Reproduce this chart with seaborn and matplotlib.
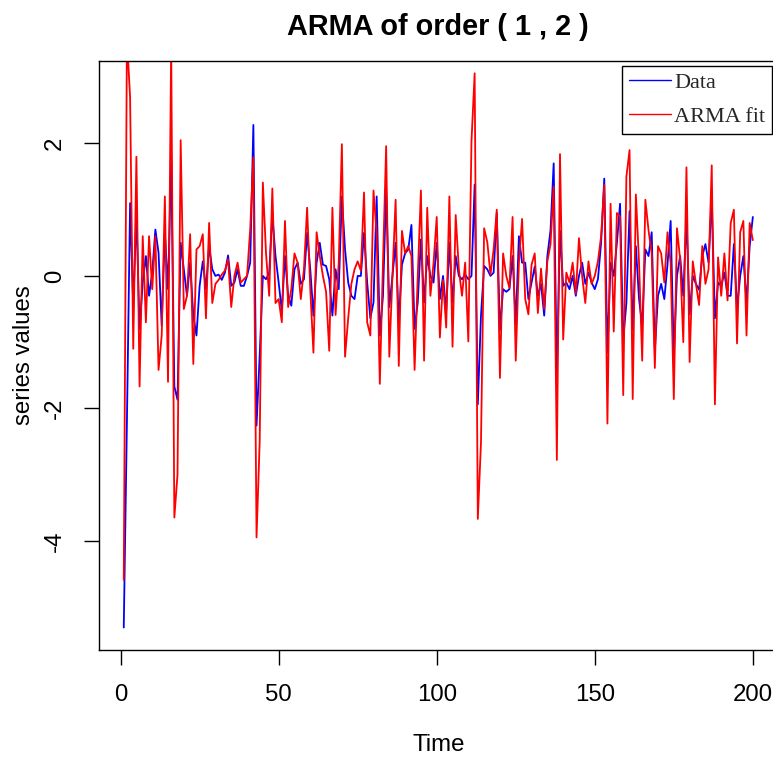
import numpy as np
import pandas as pd
import matplotlib
matplotlib.use("Agg")
import matplotlib.pyplot as plt
import seaborn as sns
from matplotlib.lines import Line2D

# Observed series and fitted ARMA(1,2) values, t = 1..200
data_values = [
    -5.31, -2.2, 1.1, -0.45, 0.95, -0.8, -0.1, 0.3, -0.3, 0.05,
    0.7, 0.35, -0.75, 0.65, -0.2, 1.78, -1.67, -1.87, 0.5, 0.1,
    -0.3, 0.2, -0.6, -0.9, -0.15, 0.22, -0.2, 0.45, 0.1, 0.0,
    0.02, -0.06, 0.05, 0.31, -0.15, -0.1, 0.1, -0.15, -0.15, 0.0,
    0.2, 2.28, -2.26, -1.2, 0.0, -0.05, 0.05, 0.92, 0.3, -0.1,
    -0.53, 0.3, -0.3, -0.45, 0.1, 0.2, -0.12, -0.05, 0.65, 0.1,
    -0.6, 0.2, 0.5, 0.17, 0.15, -0.05, -0.6, 0.1, -0.2, 1.2,
    0.4, -0.1, -0.3, -0.35, 0.0, 0.0, 0.65, -0.1, -0.64, -0.4,
    1.2, -0.9, -0.3, 1.3, -0.47, 0.0, 0.5, -0.7, 0.17, 0.34,
    0.4, 0.77, -0.8, -0.4, 0.55, -0.4, 0.3, 0.0, -0.1, 0.5,
    -0.35, 0.0, -0.53, 0.5, -0.4, 0.3, 0.0, -0.05, 0.02, -0.05,
    0.0, 1.38, -1.94, -0.6, 0.15, 0.1, 0.0, 0.05, 0.95, -0.82,
    -0.2, -0.24, -0.2, 0.3, -0.73, 0.6, 0.2, 0.2, -0.35, -0.1,
    0.14, -0.3, -0.12, -0.6, 0.3, 0.69, 1.7, -1.5, 0.68, -0.15,
    -0.1, -0.2, 0.0, -0.3, 0.0, 0.2, -0.12, 0.05, -0.1, -0.2,
    -0.05, 0.5, 1.47, -1.16, 0.2, 0.0, 0.5, 1.09, -0.96, -0.41,
    0.98, -0.82, 0.45, -0.35, -0.76, 0.4, 0.3, 0.66, -1.13, -0.3,
    -0.12, -0.35, 0.17, 0.83, -1.22, 0.0, 0.3, -0.3, 0.89, -0.58,
    0.0, -0.12, -0.21, 0.3, 0.48, 0.2, 1.18, -0.64, -0.1, -0.15,
    0.05, -0.3, -0.3, 0.48, -0.5, 0.0, 0.3, -0.41, 0.45, 0.89,
]

fit_values = [
    -4.59, 3.6, 2.7, -1.1, 1.8, -1.67, 0.6, -0.7, 0.6, -0.2,
    0.6, -1.42, -0.9, 1.2, -1.6, 3.5, -3.65, -3.0, 2.05, -0.5,
    -0.3, 0.63, -1.33, 0.4, 0.45, 0.63, -0.64, 0.8, -0.41, -0.12,
    -0.06, 0.02, 0.08, 0.25, -0.47, 0.0, 0.2, -0.1, -0.05, 0.0,
    0.71, 1.79, -3.95, -2.5, 1.41, 0.34, -0.3, 1.32, -0.41, -0.35,
    -0.7, 0.83, -0.47, -0.2, 0.34, 0.2, -0.35, 0.1, 1.03, -0.2,
    -1.16, 0.66, 0.3, 0.0, -0.24, -1.13, 1.03, -0.59, 0.2, 1.99,
    -1.22, -0.64, -0.12, 0.1, 0.22, 0.08, 1.26, -0.7, -0.9, 1.29,
    0.63, -1.63, 0.2, 1.96, -1.22, 0.0, 1.15, -1.36, 0.68, 0.34,
    0.45, 0.3, -1.42, 0.0, 1.29, -1.28, 1.03, -0.3, 0.2, 0.89,
    -0.93, -0.06, -0.78, 1.2, -1.07, 0.92, 0.1, -0.3, 0.2, -0.99,
    2.04, 3.06, -3.67, -2.52, 0.72, 0.51, 0.02, 0.4, 1.0, -1.54,
    0.34, 0.0, -0.18, 0.89, -1.28, 0.2, 0.86, -0.35, -0.58, 0.17,
    0.34, -0.56, 0.11, -0.5, 0.22, 0.48, 1.35, -2.78, 1.84, -0.96,
    0.05, -0.1, 0.2, -0.27, 0.57, 0.0, -0.41, 0.22, -0.12, 0.0,
    0.22, 0.6, 1.38, -2.23, 1.09, -0.84, 0.95, 0.9, -1.8, 1.5,
    1.9, -1.86, 1.23, 0.2, -1.28, 1.15, 0.69, 0.34, -1.39, 0.45,
    0.34, -0.1, 0.66, 0.2, -1.86, 0.72, 0.25, -1.0, 1.64, -1.3,
    0.22, -0.12, -0.44, 0.45, -0.12, 0.1, 1.67, -1.94, 0.28, -0.3,
    0.34, -0.37, 0.8, 1.0, -1.02, 0.66, 0.83, -0.9, 0.8, 0.54,
]

time_index = list(range(1, len(data_values) + 1))
x_ticks = [0, 50, 100, 150, 200]
y_ticks = [-4, -2, 0, 2]
series_labels = ["Data", "ARMA fit"]
series_colors = ["blue", "red"]
title_text = "ARMA of order ( 1 , 2 )"

sns.set_style("ticks")
plt.rcParams["font.family"] = ["Liberation Sans", "DejaVu Sans"]
plt.rcParams["axes.unicode_minus"] = False

W, H = 773, 757
fig = plt.figure(figsize=(W / 100, H / 100), dpi=100)
fig.patch.set_facecolor("white")

# plot region in pixels: left 98.6, right 778 (runs past the edge), top 61, bottom 650
left, right, top, bottom = 98.6, 778.0, 61.0, 650.0
ax = fig.add_axes([left / W, (H - bottom) / H, (right - left) / W, (bottom - top) / H])

df = pd.DataFrame({"Time": time_index, "Data": data_values, "ARMA fit": fit_values})

sns.lineplot(data=df, x="Time", y="Data", color=series_colors[0], lw=1.3,
             estimator=None, sort=False, legend=False, ax=ax)
sns.lineplot(data=df, x="Time", y="ARMA fit", color=series_colors[1], lw=1.3,
             estimator=None, sort=False, legend=False, ax=ax)

ax.set_xlim(-6.96, 207.96)
ax.set_ylim(-5.65, 3.246)
ax.set_xticks(x_ticks)
ax.set_yticks(y_ticks)
ax.set_xticklabels([str(v) for v in x_ticks])
ax.set_yticklabels([str(v) for v in y_ticks])

for side in ["left", "right", "top", "bottom"]:
    ax.spines[side].set_visible(True)
    ax.spines[side].set_color("black")
    ax.spines[side].set_linewidth(1.0)

ax.tick_params(axis="both", direction="out", length=10.5, width=1.0,
               color="black", labelcolor="black", labelsize=17.3)
ax.tick_params(axis="x", pad=14)
ax.tick_params(axis="y", pad=13)
for lbl in ax.get_yticklabels():
    lbl.set_rotation(90)
    lbl.set_va("center")

ax.set_xlabel("Time", fontsize=17.3, color="black")
ax.xaxis.set_label_coords(0.5, -(734 - bottom) / (bottom - top))
ax.set_ylabel("series values", fontsize=17.3, color="black")
ax.yaxis.set_label_coords((35 - left) / (right - left), 0.5)

ax.set_title(title_text, fontsize=20.8, fontweight="bold", pad=19, color="black")

handles = [Line2D([], [], color=c, lw=1.0) for c in series_colors]
leg = ax.legend(handles, series_labels, loc="upper right",
                bbox_to_anchor=(772 / W, 1 - 66 / H), bbox_transform=fig.transFigure,
                prop={"family": "Liberation Serif", "size": 16},
                frameon=True, fancybox=False, framealpha=1, edgecolor="black",
                handlelength=1.9, handletextpad=0.15, borderpad=0.3,
                labelspacing=0.6, borderaxespad=0)
leg.get_frame().set_linewidth(1.0)

fig.savefig("out.png", dpi=100, facecolor="white")
